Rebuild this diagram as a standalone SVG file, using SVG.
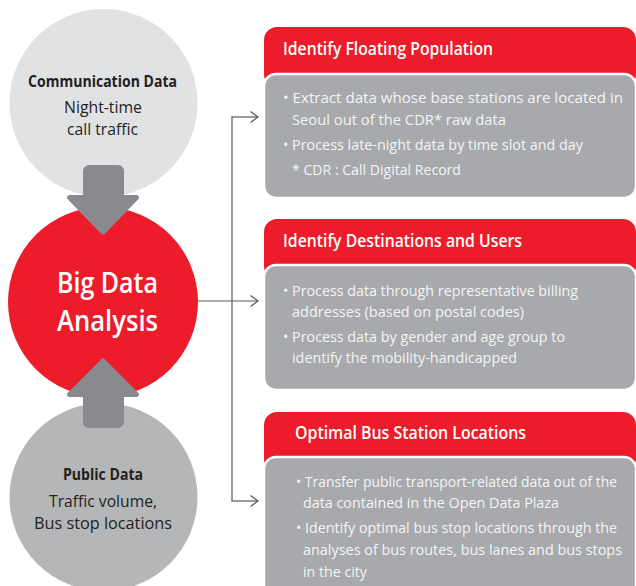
<svg xmlns="http://www.w3.org/2000/svg" width="636" height="586" viewBox="0 0 636 586">
<defs>
<style>
.hdr{fill:#ed1c2a}
.body{fill:#a7a9ac;stroke:#ffffff;stroke-width:2.5}
.ht{font-family:"Open Sans","Liberation Sans",sans-serif;font-weight:600;font-size:17.5px;fill:#ffffff}
.bt{font-family:"Open Sans","Liberation Sans",sans-serif;font-size:15.2px;fill:#f4f4f4}
.ct{font-family:"Open Sans","Liberation Sans",sans-serif;font-size:16px;fill:#231f20}
.cb{font-weight:700}
.big{font-family:"Open Sans","Liberation Sans",sans-serif;font-size:29.5px;fill:#ffffff;font-weight:600}
.conn{fill:none;stroke:#58595b;stroke-width:1.2}
.blk{fill:#898a8f;stroke:#898a8f;stroke-width:5;stroke-linejoin:round}
</style>
<marker id="chev" markerUnits="userSpaceOnUse" markerWidth="12" markerHeight="14" refX="8" refY="6" orient="auto">
<path d="M0.5,0.5 L8,6 L0.5,11.5" fill="none" stroke="#58595b" stroke-width="1.2"/>
</marker>
</defs>

<g id="node-communication">
<circle cx="103.5" cy="103" r="94" fill="#e1e2e4"/>
<text class="ct cb" x="28" y="87" textLength="149" lengthAdjust="spacingAndGlyphs">Communication Data</text>
<text class="ct" x="64" y="113" textLength="78" lengthAdjust="spacingAndGlyphs">Night-time</text>
<text class="ct" x="67" y="135" textLength="71" lengthAdjust="spacingAndGlyphs">call traffic</text>
</g>

<g id="node-public">
<circle cx="103.5" cy="497" r="94" fill="#b5b6b8"/>
<text class="ct cb" x="63" y="480" textLength="80" lengthAdjust="spacingAndGlyphs">Public Data</text>
<text class="ct" x="49" y="507" textLength="108" lengthAdjust="spacingAndGlyphs">Traffic volume,</text>
<text class="ct" x="34" y="529" textLength="138" lengthAdjust="spacingAndGlyphs">Bus stop locations</text>
</g>

<g id="node-bigdata">
<circle cx="103" cy="302" r="95" fill="#ed1c2a"/>
<text class="big" x="57" y="293" textLength="101" lengthAdjust="spacingAndGlyphs">Big Data</text>
<text class="big" x="57" y="331" textLength="101" lengthAdjust="spacingAndGlyphs">Analysis</text>
</g>

<g id="arrow-down">
<rect x="83" y="165" width="41" height="40" rx="6" fill="#898a8f"/>
<polygon class="blk" points="69.5,197.5 136.5,197.5 103,232"/>
</g>
<g id="arrow-up">
<rect x="83" y="388" width="41" height="40" rx="6" fill="#898a8f"/>
<polygon class="blk" points="103,361 136.5,394.5 69.5,394.5"/>
</g>

<g id="connectors">
<line class="conn" x1="197" y1="301" x2="258" y2="301" marker-end="url(#chev)"/>
<line class="conn" x1="232" y1="117" x2="232" y2="501"/>
<line class="conn" x1="231.4" y1="117" x2="258" y2="117" marker-end="url(#chev)"/>
<line class="conn" x1="231.4" y1="501" x2="258" y2="501" marker-end="url(#chev)"/>
</g>

<g id="panel-floating">
<rect class="hdr" x="264" y="27" width="372" height="60" rx="13"/>
<rect class="body" x="264" y="74" width="372" height="124" rx="12"/>
<text class="ht" x="283" y="55" textLength="210" lengthAdjust="spacingAndGlyphs">Identify Floating Population</text>
<text class="bt" transform="translate(283,103) scale(0.9,1)" x="0" y="0" textLength="377.8" lengthAdjust="spacingAndGlyphs">• Extract data whose base stations are located in</text>
<text class="bt" x="292" y="125" textLength="214" lengthAdjust="spacingAndGlyphs">Seoul out of the CDR* raw data</text>
<text class="bt" x="283" y="150" textLength="300" lengthAdjust="spacingAndGlyphs">• Process late-night data by time slot and day</text>
<text class="bt" x="292" y="175" textLength="169" lengthAdjust="spacingAndGlyphs">* CDR : Call Digital Record</text>
</g>

<g id="panel-destinations">
<rect class="hdr" x="264" y="219" width="372" height="60" rx="13"/>
<rect class="body" x="264" y="265" width="372" height="125" rx="12"/>
<text class="ht" x="283" y="247" textLength="239" lengthAdjust="spacingAndGlyphs">Identify Destinations and Users</text>
<text class="bt" x="283" y="296" textLength="295" lengthAdjust="spacingAndGlyphs">• Process data through representative billing</text>
<text class="bt" x="292" y="317" textLength="232" lengthAdjust="spacingAndGlyphs">addresses (based on postal codes)</text>
<text class="bt" x="283" y="342" textLength="282" lengthAdjust="spacingAndGlyphs">• Process data by gender and age group to</text>
<text class="bt" x="292" y="363" textLength="225" lengthAdjust="spacingAndGlyphs">identify the mobility-handicapped</text>
</g>

<g id="panel-busstation">
<rect class="hdr" x="264" y="412" width="372" height="60" rx="13"/>
<rect class="body" x="264" y="457" width="372" height="145" rx="12"/>
<text class="ht" x="295" y="439" textLength="231" lengthAdjust="spacingAndGlyphs">Optimal Bus Station Locations</text>
<text class="bt" transform="translate(296,487) scale(0.87,1)" x="0" y="0" textLength="369" lengthAdjust="spacingAndGlyphs">• Transfer public transport-related data out of the</text>
<text class="bt" x="303" y="508" textLength="256" lengthAdjust="spacingAndGlyphs">data contained in the Open Data Plaza</text>
<text class="bt" transform="translate(296,533) scale(0.87,1)" x="0" y="0" textLength="369" lengthAdjust="spacingAndGlyphs">• Identify optimal bus stop locations through the</text>
<text class="bt" transform="translate(303,555) scale(0.87,1)" x="0" y="0" textLength="366.7" lengthAdjust="spacingAndGlyphs">analyses of bus routes, bus lanes and bus stops</text>
<text class="bt" x="303" y="577" textLength="64" lengthAdjust="spacingAndGlyphs">in the city</text>
</g>
</svg>
